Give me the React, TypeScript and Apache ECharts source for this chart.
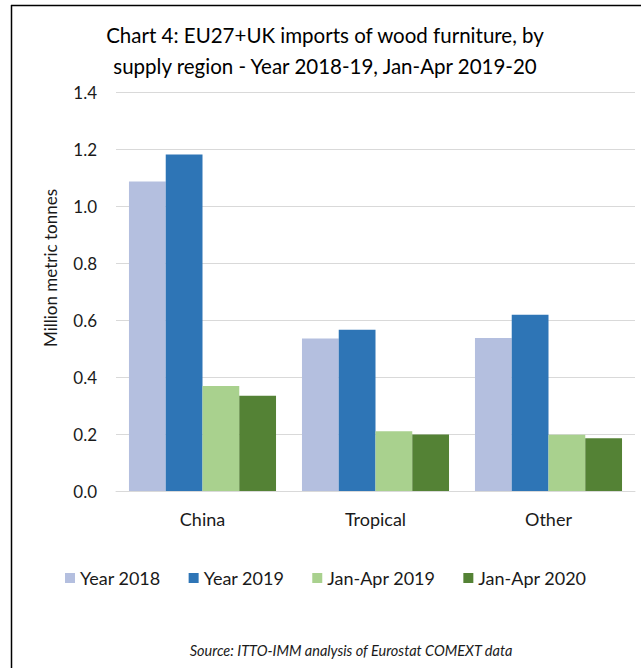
import React, { useEffect, useRef } from "react";
import * as echarts from "echarts";

const categories = ["China", "Tropical", "Other"];
const seriesNames = ["Year 2018", "Year 2019", "Jan-Apr 2019", "Jan-Apr 2020"];
const year2018 = [1.086, 0.535, 0.537];
const year2019 = [1.181, 0.566, 0.618];
const janApr2019 = [0.368, 0.21, 0.197];
const janApr2020 = [0.334, 0.198, 0.185];
const yTicks = { min: 0, max: 1.4, interval: 0.2 };
const colors = ["#B4BFDF", "#2E75B6", "#A9D18E", "#548235"];

const FONT = "Lato, 'Open Sans', sans-serif";

export default function App() {
  const ref = useRef<HTMLDivElement>(null);
  useEffect(() => {
    document.body.style.margin = "0";
    if (!ref.current) return;
    const chart = echarts.init(ref.current, null, { renderer: "svg" });
    const values = [year2018, year2019, janApr2019, janApr2020];
    chart.setOption({
      animation: false,
      backgroundColor: "#fff",
      textStyle: { fontFamily: FONT },
      title: {
        text: "Chart 4: EU27+UK imports of wood furniture, by\nsupply region - Year 2018-19, Jan-Apr 2019-20",
        left: 320,
        top: 14,
        textAlign: "center",
        textStyle: { fontFamily: FONT, fontSize: 20.5, fontWeight: "normal", color: "#000", lineHeight: 31 },
      },
      legend: {
        left: 60,
        top: 564,
        icon: "rect",
        itemWidth: 10,
        itemHeight: 10,
        itemGap: 28,
        textStyle: { fontFamily: FONT, fontSize: 18, color: "#1a1a1a" },
        data: seriesNames,
      },
      grid: { left: 116, right: 6, top: 92, bottom: 177, containLabel: false },
      xAxis: {
        type: "category",
        data: categories,
        axisLine: { lineStyle: { color: "#D9D9D9", width: 1 } },
        axisTick: { show: false },
        axisLabel: { fontFamily: FONT, fontSize: 18, color: "#1a1a1a", margin: 19 },
      },
      yAxis: {
        type: "value",
        min: yTicks.min,
        max: yTicks.max,
        interval: yTicks.interval,
        axisLine: { show: false },
        axisTick: { show: false },
        splitLine: { lineStyle: { color: "#D9D9D9", width: 1 } },
        axisLabel: {
          fontFamily: FONT,
          fontSize: 17,
          color: "#1a1a1a",
          margin: 19,
          formatter: (v: number) => v.toFixed(1),
        },
      },
      series: seriesNames.map((name, i) => ({
        name,
        type: "bar",
        data: values[i],
        barGap: "0%",
        barCategoryGap: "15%",
        itemStyle: { color: colors[i] },
      })),
      graphic: [
        {
          type: "text",
          x: 50,
          y: 268,
          rotation: Math.PI / 2,
          style: {
            text: "Million metric tonnes",
            fontFamily: FONT,
            fontSize: 17,
            fill: "#1a1a1a",
            align: "center",
            verticalAlign: "middle",
          },
        },
        {
          type: "text",
          x: 351,
          y: 650,
          style: {
            text: "Source: ITTO-IMM analysis of Eurostat COMEXT data",
            fontFamily: FONT,
            fontSize: 14.5,
            fontStyle: "italic",
            fill: "#1a1a1a",
            align: "center",
            verticalAlign: "middle",
          },
        },
        {
          type: "line",
          shape: { x1: 11.5, y1: 5, x2: 11.5, y2: 668 },
          style: { stroke: "#000", lineWidth: 1.5 },
        },
        {
          type: "line",
          shape: { x1: 11, y1: 5.5, x2: 641, y2: 5.5 },
          style: { stroke: "#000", lineWidth: 1.5 },
        },
      ],
    });
    return () => chart.dispose();
  }, []);
  return <div ref={ref} style={{ width: 641, height: 668 }} />;
}
